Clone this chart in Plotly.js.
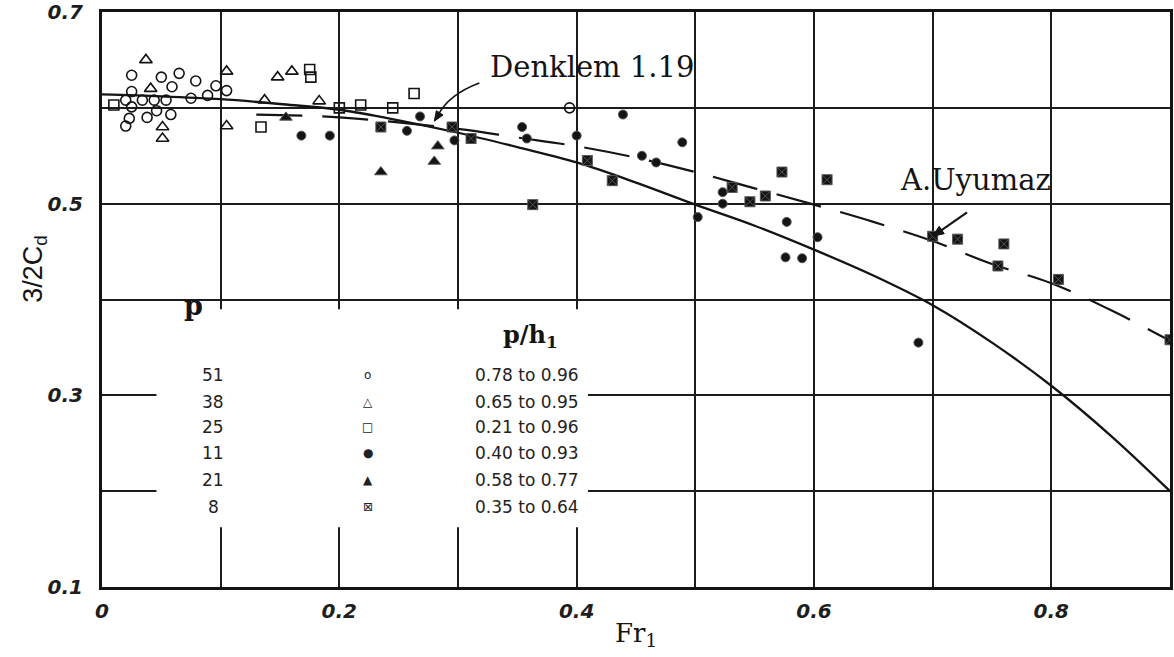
<!DOCTYPE html>
<html>
<head>
<meta charset="utf-8">
<script src="https://cdn.plot.ly/plotly-3.0.1.min.js"></script>
<style>html,body{margin:0;padding:0;background:#fff;}#chart{width:1174px;height:657px;}</style>
</head>
<body>
<div id="chart"></div>
<script>
// ---- Data ----
const denklemFr = [0, 0.05, 0.1, 0.15, 0.2, 0.25, 0.3, 0.35, 0.4, 0.45, 0.5, 0.55, 0.6, 0.65, 0.7, 0.75, 0.8, 0.85, 0.9];
const denklemY  = [0.614, 0.612, 0.609, 0.604, 0.598, 0.587, 0.574, 0.559, 0.543, 0.522, 0.499, 0.477, 0.452, 0.425, 0.394, 0.355, 0.31, 0.258, 0.2];

const uyumazFr = [0.13, 0.2, 0.3, 0.35, 0.4, 0.45, 0.5, 0.55, 0.6, 0.65, 0.7, 0.75, 0.8, 0.85, 0.9];
const uyumazY  = [0.593, 0.59, 0.578, 0.569, 0.56, 0.548, 0.533, 0.516, 0.499, 0.481, 0.461, 0.437, 0.417, 0.389, 0.357];

// p = 51 (open circles)
const p51Fr = [0.025, 0.05, 0.065, 0.059, 0.079, 0.096, 0.025, 0.089, 0.075, 0.044, 0.105, 0.023, 0.02, 0.038, 0.046, 0.058, 0.025, 0.034, 0.054, 0.02, 0.394];
const p51Y  = [0.634, 0.632, 0.636, 0.622, 0.628, 0.623, 0.617, 0.613, 0.61, 0.608, 0.618, 0.589, 0.581, 0.59, 0.597, 0.593, 0.601, 0.608, 0.608, 0.608, 0.6];
// p = 38 (open triangles)
const p38Fr = [0.037, 0.041, 0.051, 0.051, 0.105, 0.105, 0.137, 0.183, 0.148, 0.16];
const p38Y  = [0.65, 0.62, 0.58, 0.568, 0.638, 0.581, 0.608, 0.607, 0.632, 0.638];
// p = 25 (open squares)
const p25Fr = [0.01, 0.134, 0.2, 0.218, 0.245, 0.263, 0.175, 0.176];
const p25Y  = [0.603, 0.58, 0.6, 0.603, 0.6, 0.615, 0.64, 0.632];
// p = 11 (filled circles)
const p11Fr = [0.168, 0.192, 0.257, 0.268, 0.297, 0.354, 0.358, 0.4, 0.439, 0.455, 0.467, 0.489, 0.502, 0.523, 0.523, 0.577, 0.603, 0.576, 0.59, 0.688];
const p11Y  = [0.571, 0.571, 0.576, 0.591, 0.566, 0.58, 0.568, 0.571, 0.593, 0.55, 0.543, 0.564, 0.486, 0.512, 0.5, 0.481, 0.465, 0.444, 0.443, 0.355];
// p = 21 (filled triangles)
const p21Fr = [0.155, 0.235, 0.283, 0.28];
const p21Y  = [0.59, 0.533, 0.56, 0.544];
// p = 8 (crossed squares)
const p8Fr = [0.235, 0.295, 0.311, 0.363, 0.409, 0.43, 0.531, 0.546, 0.559, 0.573, 0.611, 0.7, 0.721, 0.76, 0.755, 0.806, 0.9];
const p8Y  = [0.58, 0.58, 0.568, 0.499, 0.545, 0.524, 0.517, 0.502, 0.508, 0.533, 0.525, 0.466, 0.463, 0.458, 0.435, 0.421, 0.358];

const xTickVals = [0, 0.2, 0.4, 0.6, 0.8];
const xTickText = ['0', '0.2', '0.4', '0.6', '0.8'];
const xGridVals = [0.1, 0.3, 0.5, 0.7];
const yTickVals = [0.1, 0.3, 0.5, 0.7];
const yTickText = ['0.1', '0.3', '0.5', '0.7'];
const yGridVals = [0.2, 0.4, 0.6];

const legendP = ['51', '38', '25', '11', '21', '8'];
const legendSym = ['o', '\u25B3', '\u25A1', '\u25CF', '\u25B2', '\u22A0'];
const legendRange = ['0.78 to 0.96', '0.65 to 0.95', '0.21 to 0.96', '0.40 to 0.93', '0.58 to 0.77', '0.35 to 0.64'];

// ---- Build ----
const ink = '#141414';
const gridInk = '#1c1c1c';
function pts(x, y, symbol, size, filled) {
  return {
    type: 'scatter', mode: 'markers', x: x, y: y, showlegend: false, hoverinfo: 'skip',
    marker: { symbol: symbol, size: size, color: ink, line: { color: filled ? '#555' : ink, width: filled ? 1 : 1.6 } }
  };
}
const traces = [
  { type: 'scatter', mode: 'lines', x: denklemFr, y: denklemY, line: { color: ink, width: 2.3, shape: 'spline' }, showlegend: false, hoverinfo: 'skip' },
  { type: 'scatter', mode: 'lines', x: uyumazFr, y: uyumazY, line: { color: ink, width: 2.2, dash: '46px,20px', shape: 'spline' }, showlegend: false, hoverinfo: 'skip' },
  pts(p51Fr, p51Y, 'circle-open', 10, false),
  pts(p38Fr, p38Y, 'triangle-up-open', 11, false),
  pts(p25Fr, p25Y, 'square-open', 10, false),
  pts(p11Fr, p11Y, 'circle', 9, true),
  pts(p21Fr, p21Y, 'triangle-up', 11, true),
  pts(p8Fr, p8Y, 'square-x', 10, true)
];

// legend block (paper coords)
const rowY = [0.369, 0.322, 0.278, 0.233, 0.186, 0.139];
const legFont = { family: 'DejaVu Sans', size: 17, color: '#222' };
const annotations = [];
legendP.forEach((p, i) => {
  annotations.push({ xref: 'paper', yref: 'paper', x: 0.104, y: rowY[i], text: p, showarrow: false, font: legFont, xanchor: 'center', yanchor: 'middle' });
  annotations.push({ xref: 'paper', yref: 'paper', x: 0.249, y: rowY[i], text: legendSym[i], showarrow: false, font: { family: 'DejaVu Sans', size: 12, color: '#222' }, xanchor: 'center', yanchor: 'middle' });
  annotations.push({ xref: 'paper', yref: 'paper', x: 0.398, y: rowY[i], text: legendRange[i], showarrow: false, font: legFont, xanchor: 'center', yanchor: 'middle' });
});
annotations.push({ xref: 'paper', yref: 'paper', x: 0.086, y: 0.49, text: '<b>p</b>', showarrow: false, font: { family: 'DejaVu Serif', size: 27, color: ink }, xanchor: 'center', yanchor: 'middle' });
annotations.push({ xref: 'paper', yref: 'paper', x: 0.401, y: 0.436, text: '<b>p/h<sub>1</sub></b>', showarrow: false, font: { family: 'DejaVu Serif', size: 24, color: ink }, xanchor: 'center', yanchor: 'middle' });

// axis title on the left (rotated)
annotations.push({ xref: 'paper', yref: 'paper', x: -0.063, y: 0.553, text: '3/2C<sub>d</sub>', textangle: -90, showarrow: false, font: { family: 'Liberation Sans Narrow, Liberation Sans', size: 27, color: ink }, xanchor: 'center', yanchor: 'middle' });

// curve labels
annotations.push({ x: 0.413, y: 0.643, text: 'Denklem 1.19', showarrow: false, font: { family: 'DejaVu Serif', size: 29, color: ink }, xanchor: 'center', yanchor: 'middle' });
annotations.push({ x: 0.736, y: 0.525, text: 'A.Uyumaz', showarrow: false, font: { family: 'DejaVu Serif', size: 29, color: ink }, xanchor: 'center', yanchor: 'middle' });

const shapes = [
  // white area behind the legend block interrupts the grid
  { type: 'rect', xref: 'paper', yref: 'paper', x0: 0.051, x1: 0.455, y0: 0.104, y1: 0.483, fillcolor: '#fff', line: { width: 0 }, layer: 'above' },
  // curved leader of "Denklem 1.19" and its head
  { type: 'path', xref: 'x', yref: 'y', path: 'M0.318,0.626 Q0.292,0.614 0.283,0.592', line: { color: ink, width: 1.6 } },
  { type: 'path', xref: 'x', yref: 'y', xsizemode: 'pixel', ysizemode: 'pixel', xanchor: 0.28, yanchor: 0.586,
    path: 'M0,0 L8.8,6.2 L2.1,10.6 Z', fillcolor: ink, line: { color: ink, width: 1 } },
  // straight leader of "A.Uyumaz" and its head
  { type: 'line', xref: 'x', yref: 'y', x0: 0.729, y0: 0.491, x1: 0.706, y1: 0.471, line: { color: ink, width: 2.2 } },
  { type: 'path', xref: 'x', yref: 'y', xsizemode: 'pixel', ysizemode: 'pixel', xanchor: 0.7, yanchor: 0.466,
    path: 'M0,0 L11.6,2.6 L6.5,10 Z', fillcolor: ink, line: { color: ink, width: 1 } }
];

const tickFont = { family: 'DejaVu Sans', size: 20, color: '#1e1e1e', style: 'italic', weight: 'bold' };
const layout = {
  width: 1174, height: 657,
  margin: { l: 102, r: 4, t: 12, b: 70 },
  paper_bgcolor: '#fff', plot_bgcolor: '#fff',
  showlegend: false,
  xaxis: {
    range: [0, 0.9], tickmode: 'array', tickvals: xTickVals, ticktext: xTickText, tickfont: tickFont,
    showgrid: true, gridcolor: gridInk, gridwidth: 2, zeroline: false,
    minor: { tickmode: 'array', tickvals: xGridVals, showgrid: true, gridcolor: gridInk, gridwidth: 2, ticks: '' },
    showline: true, linecolor: ink, linewidth: 3, mirror: true, ticks: '', ticklabelstandoff: 4,
    title: { text: 'Fr<sub>1</sub>', font: { family: 'DejaVu Serif', size: 26, color: ink }, standoff: 2 }
  },
  yaxis: {
    range: [0.1, 0.7], tickmode: 'array', tickvals: yTickVals, ticktext: yTickText, tickfont: tickFont,
    showgrid: true, gridcolor: gridInk, gridwidth: 2, zeroline: false,
    minor: { tickmode: 'array', tickvals: yGridVals, showgrid: true, gridcolor: gridInk, gridwidth: 2, ticks: '' },
    showline: true, linecolor: ink, linewidth: 3, mirror: true, ticks: '', ticklabelstandoff: 12
  },
  annotations: annotations,
  shapes: shapes
};
Plotly.newPlot('chart', traces, layout, { displayModeBar: false, staticPlot: true });
</script>
</body>
</html>
